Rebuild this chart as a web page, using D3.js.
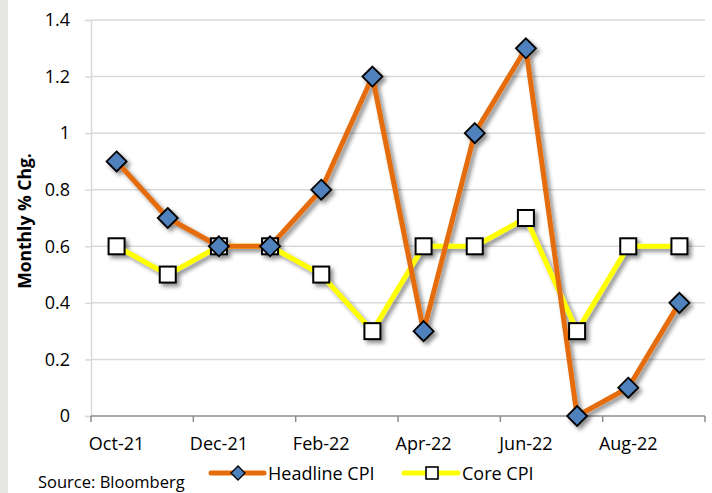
<!DOCTYPE html>
<html>
<head>
<meta charset="utf-8">
<script src="https://cdn.jsdelivr.net/npm/d3@7"></script>
<style>
  html, body { margin: 0; padding: 0; background: #fff; }
  svg { display: block; font-family: "Open Sans", "Liberation Sans", sans-serif; }
</style>
</head>
<body>
<svg id="chart" width="712" height="493"></svg>
<script>
const categories = ["Oct-21","Nov-21","Dec-21","Jan-22","Feb-22","Mar-22","Apr-22","May-22","Jun-22","Jul-22","Aug-22","Sep-22"];
const headlineCPI = [0.9, 0.7, 0.6, 0.6, 0.8, 1.2, 0.3, 1.0, 1.3, 0.0, 0.1, 0.4];
const coreCPI     = [0.6, 0.5, 0.6, 0.6, 0.5, 0.3, 0.6, 0.6, 0.7, 0.3, 0.6, 0.6];
const yTicks = [0, 0.2, 0.4, 0.6, 0.8, 1, 1.2, 1.4];
const xLabelCats = ["Oct-21","Dec-21","Feb-22","Apr-22","Jun-22","Aug-22"];
const seriesNames = ["Headline CPI", "Core CPI"];

(function () {
const svg = d3.select("#chart");
const W = 712, H = 493;
const pL = 91, pR = 705, pT = 20, pB = 416;

svg.append("rect").attr("x", 0).attr("y", 0).attr("width", 8).attr("height", H).attr("fill", "#e7e7e3");

const defs = svg.append("defs");
const f = defs.append("filter").attr("id", "shadow").attr("x", "-50%").attr("y", "-50%").attr("width", "200%").attr("height", "200%");
f.append("feDropShadow").attr("dx", 3).attr("dy", 3).attr("stdDeviation", 2.2).attr("flood-color", "#000").attr("flood-opacity", 0.45);

// partially visible title (cut off at top edge, as in the reference)
svg.append("text").attr("x", 385).attr("y", -5).attr("text-anchor", "middle")
  .attr("fill", "#2e8ddc").attr("font-size", 22).attr("font-weight", "bold").text("g");

const x = d3.scaleBand().domain(categories).range([pL, pR]).padding(0);
const cx = d => x(d) + x.bandwidth() / 2;
const y = d3.scaleLinear().domain([0, 1.4]).range([pB, pT]);

svg.append("g").selectAll("line").data(yTicks.filter(t => t > 0)).join("line")
  .attr("x1", pL).attr("x2", pR).attr("y1", d => y(d)).attr("y2", d => y(d))
  .attr("stroke", "#d9d9d9").attr("stroke-width", 1.5);

const yAxis = d3.axisLeft(y).tickValues(yTicks).tickSize(6).tickPadding(15).tickFormat(d => d3.format("")(d));
const gy = svg.append("g").attr("transform", `translate(${pL},0)`).call(yAxis);
gy.select(".domain").attr("stroke", "#d9d9d9").attr("stroke-width", 1.5);
gy.selectAll(".tick line").attr("stroke", "#d9d9d9").attr("stroke-width", 1.5);
gy.selectAll(".tick text").attr("font-size", 18).attr("fill", "#000").attr("font-family", "Open Sans, sans-serif");

const boundaries = d3.range(0, categories.length + 1, 2).map(i => pL + i * x.bandwidth());
const gx = svg.append("g");
gx.append("line").attr("x1", pL).attr("x2", pR).attr("y1", pB).attr("y2", pB)
  .attr("stroke", "#8c8c8c").attr("stroke-width", 1.5);
gx.selectAll("line.tk").data(boundaries).join("line").attr("class", "tk")
  .attr("x1", d => d).attr("x2", d => d).attr("y1", pB).attr("y2", pB + 6)
  .attr("stroke", "#8c8c8c").attr("stroke-width", 1.5);
gx.selectAll("text").data(xLabelCats).join("text")
  .attr("x", d => cx(d)).attr("y", 450).attr("text-anchor", "middle")
  .attr("font-size", 18).attr("fill", "#000").text(d => d);

svg.append("text").attr("transform", "translate(31,221) rotate(-90)")
  .attr("text-anchor", "middle").attr("font-size", 17.5).attr("font-weight", "bold")
  .attr("fill", "#000").text("Monthly % Chg.");

const line = d3.line().x((d, i) => cx(categories[i])).y(d => y(d));

const plot = svg.append("g").attr("filter", "url(#shadow)");
plot.append("path").datum(coreCPI).attr("d", line).attr("fill", "none")
  .attr("stroke", "#ffff00").attr("stroke-width", 5).attr("stroke-linejoin", "round");
plot.append("path").datum(headlineCPI).attr("d", line).attr("fill", "none")
  .attr("stroke", "#e46c0a").attr("stroke-width", 5).attr("stroke-linejoin", "round");

const sq = 16;
plot.selectAll("rect.core").data(coreCPI).join("rect").attr("class", "core")
  .attr("x", (d, i) => cx(categories[i]) - sq / 2).attr("y", d => y(d) - sq / 2)
  .attr("width", sq).attr("height", sq).attr("fill", "#fff").attr("stroke", "#000").attr("stroke-width", 2);

const dm = 10;
const diamond = (px, py) => `M${px},${py - dm}L${px + dm},${py}L${px},${py + dm}L${px - dm},${py}Z`;
plot.selectAll("path.head").data(headlineCPI).join("path").attr("class", "head")
  .attr("d", (d, i) => diamond(cx(categories[i]), y(d)))
  .attr("fill", "#4f81bd").attr("stroke", "#000").attr("stroke-width", 1.8).attr("stroke-linejoin", "miter");

const lg = svg.append("g");
const ly = 473;
lg.append("line").attr("x1", 211).attr("x2", 264).attr("y1", ly).attr("y2", ly)
  .attr("stroke", "#e46c0a").attr("stroke-width", 5).attr("stroke-linecap", "round");
const ldm = 7;
lg.append("path").attr("d", `M238,${ly - ldm}L${238 + ldm},${ly}L238,${ly + ldm}L${238 - ldm},${ly}Z`)
  .attr("fill", "#4f81bd").attr("stroke", "#000").attr("stroke-width", 1.3);
lg.append("text").attr("x", 268).attr("y", ly + 6.5).attr("font-size", 18).attr("fill", "#000").text(seriesNames[0]);

lg.append("line").attr("x1", 404).attr("x2", 458).attr("y1", ly).attr("y2", ly)
  .attr("stroke", "#ffff00").attr("stroke-width", 5).attr("stroke-linecap", "round");
lg.append("rect").attr("x", 426).attr("y", ly - 6).attr("width", 12).attr("height", 12)
  .attr("fill", "#fff").attr("stroke", "#000").attr("stroke-width", 1.6);
lg.append("text").attr("x", 462).attr("y", ly + 6.5).attr("font-size", 18).attr("fill", "#000").text(seriesNames[1]);

svg.append("text").attr("x", 38).attr("y", 488).attr("font-size", 16.5).attr("fill", "#000").text("Source: Bloomberg");
})();
</script>
</body>
</html>
